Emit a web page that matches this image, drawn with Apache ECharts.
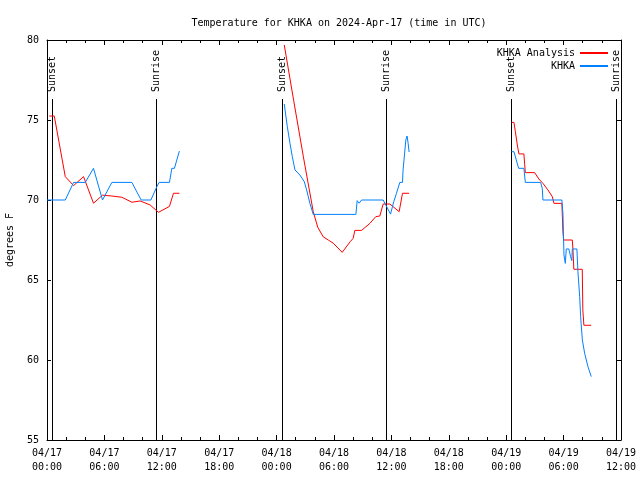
<!DOCTYPE html>
<html>
<head>
<meta charset="utf-8">
<script src="https://cdn.jsdelivr.net/npm/echarts@6/dist/echarts.min.js"></script>
<style>html,body{margin:0;padding:0;background:#fff}#c{width:640px;height:480px}</style>
</head>
<body>
<div id="c"></div>
<script>
// hours since 2024-04-17 00:00 UTC, temperature in F
var analysisDay1 = [[0.24,75.25],[0.76,75.25],[1.91,71.46],[2.78,70.9],[3.82,71.46],[4.86,69.8],[5.80,70.3],[6.78,70.25],[7.83,70.17],[8.87,69.86],[9.74,69.94],[10.78,69.69],[11.65,69.23],[12.80,69.6],[13.22,70.42],[13.84,70.42]];
var analysisDay2 = [[24.80,79.69],[25.79,76.2],[26.80,72.7],[27.83,69.27],[28.30,68.3],[28.87,67.7],[29.40,67.5],[29.92,67.3],[30.86,66.73],[31.70,67.4],[32.0,67.6],[32.18,68.1],[32.88,68.1],[33.75,68.54],[34.37,68.96],[34.79,69.0],[35.14,69.75],[35.84,69.75],[36.81,69.27],[37.16,70.42],[37.85,70.42]];
var analysisDay3 = [[48.54,74.85],[48.81,74.85],[48.96,74.27],[49.16,73.44],[49.33,72.88],[49.85,72.88],[49.93,72.23],[50.0,71.71],[50.97,71.71],[51.42,71.31],[51.84,71.04],[52.36,70.63],[52.82,70.21],[52.99,69.79],[53.82,69.79],[53.93,68.02],[54.0,67.5],[54.91,67.5],[54.97,66.98],[55.07,65.67],[55.95,65.67],[56.01,63.13],[56.12,62.17],[56.89,62.17]];
var obsDay1 = [[0.0,70.0],[1.91,70.0],[2.78,71.1],[4.0,71.1],[4.86,71.98],[5.80,70.0],[6.78,71.1],[8.87,71.1],[9.84,70.0],[10.86,70.0],[11.48,70.83],[11.72,71.1],[12.80,71.1],[13.05,71.98],[13.32,71.98],[13.84,73.06]];
var obsDay2 = [[24.80,76.0],[25.12,74.58],[25.40,73.54],[25.64,72.71],[25.92,71.88],[26.44,71.56],[26.89,71.15],[27.14,70.63],[27.48,69.79],[27.83,69.1],[32.29,69.1],[32.42,69.96],[32.63,69.8],[32.88,70.0],[35.14,70.0],[35.91,69.12],[36.25,69.9],[36.53,70.42],[36.88,71.1],[37.16,71.1],[37.22,71.88],[37.51,73.75],[37.64,74.0],[37.75,73.54],[37.85,73.0]];
var obsDay3 = [[48.54,73.02],[48.81,73.02],[49.30,71.98],[49.85,71.98],[50.0,71.1],[51.6,71.1],[51.77,70.73],[51.84,70.0],[53.82,70.0],[53.93,69.17],[54.04,66.56],[54.18,66.04],[54.28,66.94],[54.55,66.94],[54.73,66.46],[54.86,66.21],[54.91,66.94],[55.39,66.94],[55.50,65.52],[55.68,63.96],[55.78,62.71],[55.96,61.25],[56.2,60.42],[56.55,59.58],[56.89,58.96]];
var sunHours = [0.52, 11.44, 24.53, 35.39, 48.54, 59.43];
var sunLabels = ['Sunset', 'Sunrise', 'Sunset', 'Sunrise', 'Sunset', 'Sunrise'];
var xTickLabels = ['04/17\n00:00','04/17\n06:00','04/17\n12:00','04/17\n18:00','04/18\n00:00','04/18\n06:00','04/18\n12:00','04/18\n18:00','04/19\n00:00','04/19\n06:00','04/19\n12:00'];
var yTicks = [55, 60, 65, 70, 75, 80];

var FONT = 'DejaVu Sans Mono';
function joinDays(a, b, c) {
  return a.concat([[(a[a.length-1][0] + b[0][0]) / 2, null]], b, [[(b[b.length-1][0] + c[0][0]) / 2, null]], c);
}
var chart = echarts.init(document.getElementById('c'), null, {renderer: 'canvas'});
var xCommon = {
  type: 'value', min: 0, max: 60, interval: 6,
  axisLine: {show: true, onZero: false, lineStyle: {color: '#000', width: 1}},
  axisTick: {show: true, inside: true, length: 5, lineStyle: {color: '#000'}},
  minorTick: {show: true, splitNumber: 3, length: 3, lineStyle: {color: '#000'}},
  splitLine: {show: false}, minorSplitLine: {show: false}
};
var yCommon = {
  type: 'value', min: yTicks[0], max: yTicks[yTicks.length-1], interval: 5,
  axisLine: {show: true, onZero: false, lineStyle: {color: '#000', width: 1}},
  axisTick: {show: true, inside: true, length: 4, lineStyle: {color: '#000'}},
  splitLine: {show: false}
};
chart.setOption({
  animation: false,
  backgroundColor: '#fff',
  title: {
    text: 'Temperature for KHKA on 2024-Apr-17 (time in UTC)',
    left: 334, top: 13, textAlign: 'center',
    textStyle: {fontFamily: FONT, fontSize: 10, fontWeight: 'normal', color: '#000'}
  },
  legend: {
    orient: 'vertical', right: 27, top: 42, align: 'right',
    itemWidth: 28, itemHeight: 2, itemGap: 1, icon: 'rect',
    data: ['KHKA Analysis', 'KHKA'],
    textStyle: {fontFamily: FONT, fontSize: 10, color: '#000', lineHeight: 12}
  },
  grid: {left: 47, right: 19, top: 40, bottom: 40, containLabel: false, outerBoundsMode: 'none'},
  xAxis: [
    Object.assign({}, xCommon, {
      position: 'bottom',
      axisLabel: {
        show: true, margin: 6, color: '#000', fontFamily: FONT, fontSize: 10, lineHeight: 14,
        formatter: function (v) { return (v % 6 === 0) ? xTickLabels[v / 6] : ''; }
      }
    }),
    Object.assign({}, xCommon, {position: 'top', axisLabel: {show: false}})
  ],
  yAxis: [
    Object.assign({}, yCommon, {
      position: 'left',
      name: 'degrees F', nameLocation: 'middle', nameRotate: 90, nameGap: 32,
      nameTextStyle: {fontFamily: FONT, fontSize: 10, color: '#000'},
      axisLabel: {show: true, margin: 8, color: '#000', fontFamily: FONT, fontSize: 10}
    }),
    Object.assign({}, yCommon, {position: 'right', axisLabel: {show: false}})
  ],
  series: [
    {
      name: 'KHKA Analysis', type: 'line', xAxisIndex: 0, yAxisIndex: 0,
      data: joinDays(analysisDay1, analysisDay2, analysisDay3),
      symbol: 'none', connectNulls: false, color: '#ff0000',
      lineStyle: {color: '#ff0000', width: 1}, z: 3
    },
    {
      name: 'KHKA', type: 'line', xAxisIndex: 0, yAxisIndex: 0,
      data: joinDays(obsDay1, obsDay2, obsDay3),
      symbol: 'none', connectNulls: false, color: '#0080ff',
      lineStyle: {color: '#0080ff', width: 1}, z: 4
    },
    {
      name: 'sun', type: 'custom', xAxisIndex: 0, yAxisIndex: 0, clip: false, silent: true, z: 2,
      data: sunHours.map(function (h, i) { return [h, yTicks[0], i]; }),
      encode: {x: 0, y: 1},
      renderItem: function (params, api) {
        var cs = params.coordSys;
        var x = Math.round(api.coord([api.value(0), api.value(1)])[0]) + 0.5;
        return {
          type: 'group',
          children: [
            {type: 'line', shape: {x1: x, y1: cs.y + 59, x2: x, y2: cs.y + cs.height},
             style: {stroke: '#000', lineWidth: 1}},
            {type: 'text', x: x, y: cs.y + 52, rotation: Math.PI / 2,
             style: {text: sunLabels[api.value(2)], fill: '#000', font: '10px "' + FONT + '"',
                     textAlign: 'left', textVerticalAlign: 'middle', align: 'left', verticalAlign: 'middle'}}
          ]
        };
      }
    }
  ]
});
</script>
</body>
</html>
